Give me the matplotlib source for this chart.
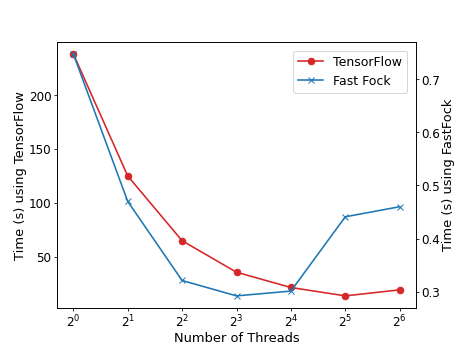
import matplotlib
matplotlib.use("Agg")
import matplotlib.pyplot as plt

threads = [1, 2, 4, 8, 16, 32, 64]
tensorflow_time = [238.7, 125.1, 64.8, 35.5, 21.3, 13.5, 19.1]
fastfock_time = [0.748, 0.470, 0.321, 0.292, 0.301, 0.441, 0.460]

plt.rcParams['font.size'] = 12
plt.rcParams['axes.labelsize'] = 13
plt.rcParams['legend.fontsize'] = 12.5
plt.rcParams['xtick.major.size'] = 3
plt.rcParams['ytick.major.size'] = 3
plt.rcParams['xtick.major.pad'] = 2.5
plt.rcParams['ytick.major.pad'] = 2.5
plt.rcParams['axes.labelpad'] = 2
plt.rcParams['lines.linewidth'] = 1.6

W, H = 463, 347
fig, ax1 = plt.subplots(figsize=(6.4, 4.8), dpi=W / 6.4)
fig.subplots_adjust(left=57 / W, right=416 / W, top=1 - 42 / H, bottom=1 - 308 / H)

l1, = ax1.plot(threads, tensorflow_time, color='tab:red', marker='o', markersize=6.5,
               label='TensorFlow')
ax1.set_xscale('log', base=2)
ax1.set_xlabel('Number of Threads')
ax1.set_ylabel('Time (s) using TensorFlow')

ax2 = ax1.twinx()
l2, = ax2.plot(threads, fastfock_time, color='tab:blue', marker='x', markersize=6.5,
               label='Fast Fock')
ax2.set_ylabel('Time (s) using FastFock')

ax2.legend(handles=[l1, l2], loc='upper right', borderaxespad=0.7)

fig.savefig('out.png')
